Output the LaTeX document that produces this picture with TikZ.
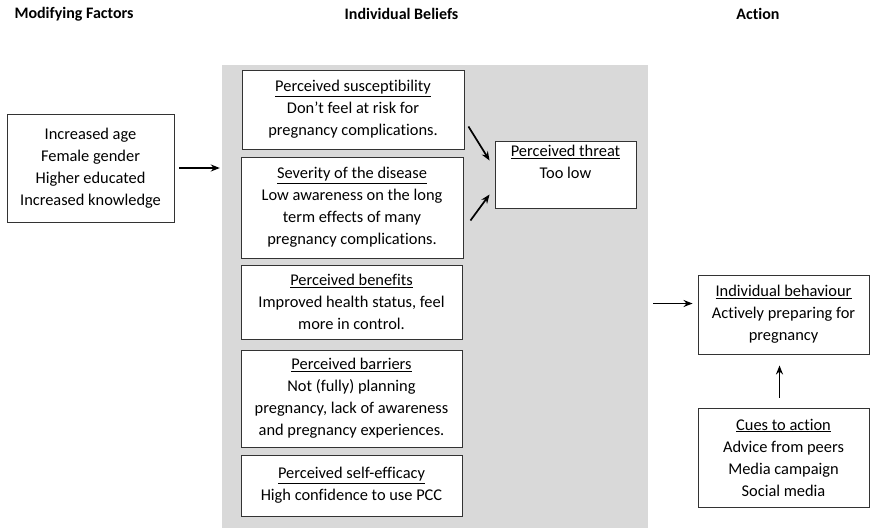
\documentclass[tikz,border=0pt]{standalone}
\usepackage{fontspec}
\setmainfont{Carlito}[Ligatures=NoCommon]
\usetikzlibrary{arrows.meta}
\definecolor{bggray}{RGB}{217,217,217}

\begin{document}
\begin{tikzpicture}[x=1pt,y=-1pt,
    box/.style={rectangle,draw=black!80,line width=0.9pt,fill=white,align=center,inner sep=2pt,
        font=\fontsize{16.4}{22}\selectfont},
    head/.style={font=\fontsize{16}{18}\selectfont\bfseries},
    arr/.style={-{Stealth[length=9pt,width=7pt]},line width=1.7pt}]
	    \useasboundingbox (0,0) rectangle (870,528);
	    \node[head] (t1) at (74,14) {Modifying Factors};
	    \node[head] (t2) at (401.5,14) {Individual Beliefs};
	    \node[head] (t3) at (758,14) {Action};
	    
	    \node[fill=bggray,minimum width=426pt,minimum height=463pt,inner sep=0pt] (beliefs) at (435,296.5) {};
	    
	    \node[box,minimum width=167pt,minimum height=108pt] (mod) at (90.5,168) {Increased age\\Female gender\\Higher educated\\Increased knowledge};
	    \node[box,minimum width=222pt,minimum height=79pt] (sus) at (353,109.5) {\underline{Perceived susceptibility}\\Don’t feel at risk for\\pregnancy complications.};
	    \node[box,minimum width=222pt,minimum height=101pt] (sev) at (352,207.5) {\underline{Severity of the disease}\\Low awareness on the long\\term effects of many\\pregnancy complications.};
	    \node[box,minimum width=141pt,minimum height=67pt] (thr) at (565.5,174.5) {\underline{Perceived threat}\\Too low\\[4pt]};
	    \node[box,minimum width=221pt,minimum height=74pt] (ben) at (351.5,302) {\underline{Perceived benefits}\\Improved health status, feel\\more in control.};
	    \node[box,minimum width=221pt,minimum height=97pt] (bar) at (351.5,398.5) {\underline{Perceived barriers}\\Not (fully) planning\\pregnancy, lack of awareness\\and pregnancy experiences.};
	    \node[box,minimum width=221pt,minimum height=61pt] (eff) at (351.5,485.5) {\underline{Perceived self-efficacy}\\High confidence to use PCC};
	    \node[box,minimum width=171pt,minimum height=79pt] (beh) at (783.5,314.5) {\underline{Individual behaviour}\\Actively preparing for\\pregnancy};
	    \node[box,minimum width=171pt,minimum height=99pt] (cue) at (783.5,457.5) {\underline{Cues to action}\\Advice from peers\\Media campaign\\Social media};
	    
	    \coordinate (p) at ([yshift=11pt]beh.west);
	    \draw[arr,shorten <=5pt,shorten >=2pt] (mod.east) -- (mod.east -| beliefs.west);
	    \draw[arr] ([xshift=4pt,yshift=-17pt]sus.east) -- ([xshift=-5pt,yshift=14pt]thr.west);
	    \draw[arr] ([xshift=7pt,yshift=-13pt]sev.east) -- ([xshift=-5pt,yshift=-20pt]thr.west);
	    \draw[arr,shorten <=5pt,shorten >=5pt] (p -| beliefs.east) -- (p);
	    \draw[arr,shorten <=10pt,shorten >=11pt] ([xshift=-4pt]cue.north) -- ([xshift=-4pt]beh.south);
        \end{tikzpicture}
\end{document}
